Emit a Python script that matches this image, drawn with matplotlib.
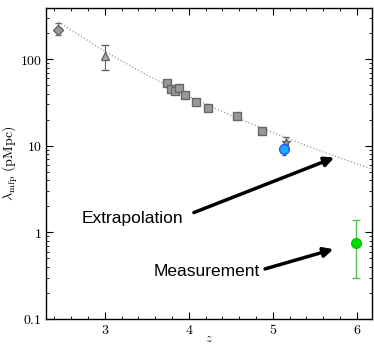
import numpy as np
import matplotlib.pyplot as plt
from matplotlib.ticker import MultipleLocator, LogLocator, FixedLocator, FixedFormatter, NullFormatter

plt.rcParams['mathtext.fontset'] = 'cm'

# grey literature points (squares)
sq_z = [3.74, 3.79, 3.83, 3.88, 3.96, 4.08, 4.23, 4.57, 4.87]
sq_l = [53, 45.5, 43, 46.5, 38.8, 32, 27.5, 22.2, 14.9]
sq_err = [3, 3, 3, 3, 2.5, 2, 2, 1.5, 1.2]

# low-z points
dia_z, dia_l, dia_lo, dia_hi = 2.44, 220, 30, 40
tri_z, tri_l, tri_lo, tri_hi = 3.0, 110, 35, 35
star_z, star_l, star_err = 5.16, 11.1, 1.4

# blue point
blue_z, blue_l, blue_err = 5.13, 9.2, 1.3

# measurement
meas_z, meas_l, meas_lo, meas_hi = 5.99, 0.76, 0.46, 0.64

# dotted extrapolation curve
fit_z = [2.45, 3.0, 3.5, 4.0, 4.5, 5.0, 5.5, 6.0, 6.18]
fit_l = [270, 123, 65.5, 37.3, 22.5, 14.2, 9.2, 6.2, 5.4]

fig = plt.figure(figsize=(3.74, 3.45), dpi=100)
ax = fig.add_axes([46/374, 1-319/345, 326/374, 311/345])

ax.plot(fit_z, fit_l, ls=':', color='#999999', lw=0.9)

grey = '#999999'
edge = '#666666'
ax.errorbar(sq_z, sq_l, yerr=sq_err, fmt='s', ms=6, mfc=grey, mec=edge,
            ecolor=edge, elinewidth=0.8, capsize=1.5)
ax.errorbar([dia_z], [dia_l], yerr=[[dia_lo], [dia_hi]], fmt='D', ms=5, mfc=grey,
            mec=edge, ecolor=edge, elinewidth=0.8, capsize=2.5)
ax.plot([dia_z + 0.02], [dia_l - 10], 'v', ms=5, mfc=grey, mec=edge)
ax.errorbar([tri_z], [tri_l], yerr=[[tri_lo], [tri_hi]], fmt='^', ms=6, mfc='#aaaaaa',
            mec=edge, ecolor=edge, elinewidth=0.8, capsize=3)
ax.errorbar([star_z], [star_l], yerr=star_err, fmt='*', ms=6, mfc=grey, mec=edge,
            ecolor=edge, elinewidth=0.8, capsize=2)
ax.errorbar([blue_z], [blue_l], yerr=blue_err, fmt='o', ms=7, mfc='#10b0ff',
            mec='#3050ff', ecolor='#3050ff', elinewidth=0.8, capsize=1.5)
ax.errorbar([meas_z], [meas_l], yerr=[[meas_lo], [meas_hi]], fmt='o', ms=7,
            mfc='#00dd00', mec='#00cc00', ecolor='#55c055', elinewidth=1.0, capsize=3)

ax.set_yscale('log')
ax.set_xlim(2.3, 6.18)
ax.set_ylim(0.1, 390)

ax.xaxis.set_major_locator(FixedLocator([3, 4, 5, 6]))
ax.xaxis.set_major_formatter(FixedFormatter([r'$3$', r'$4$', r'$5$', r'$6$']))
ax.xaxis.set_minor_locator(MultipleLocator(0.2))
ax.yaxis.set_major_locator(FixedLocator([0.1, 1, 10, 100]))
ax.yaxis.set_major_formatter(FixedFormatter([r'$0.1$', r'$1$', r'$10$', r'$100$']))
ax.yaxis.set_minor_locator(LogLocator(base=10, subs=np.arange(2, 10)))
ax.yaxis.set_minor_formatter(NullFormatter())
ax.tick_params(which='both', direction='in', top=True, right=True, labelsize=10, pad=3)
ax.tick_params(which='major', length=5, width=0.8)
ax.tick_params(which='minor', length=2.5, width=0.6)
for s in ax.spines.values():
    s.set_linewidth(1.0)

ax.set_xlabel(r'$z$', fontsize=9)
ax.xaxis.set_label_coords(0.5, -0.042)
ax.set_ylabel(r'$\lambda_{\rm mfp}\ \rm (pMpc)$', fontsize=10)
ax.yaxis.set_label_coords(-0.08, 0.5)

txt = dict(fontsize=12.5, family='Liberation Sans', color='black')
ax.annotate('Extrapolation', xy=(5.73, 7.3), xytext=(3.33, 1.43),
            ha='center', va='center', **txt,
            arrowprops=dict(arrowstyle='-|>', color='black', lw=2.5, relpos=(1.0, 0.65),
                            mutation_scale=14, shrinkA=6, shrinkB=0))
ax.annotate('Measurement', xy=(5.72, 0.64), xytext=(4.21, 0.349),
            ha='center', va='center', **txt,
            arrowprops=dict(arrowstyle='-|>', color='black', lw=2.5, relpos=(1.0, 0.6),
                            mutation_scale=14, shrinkA=2, shrinkB=0))

fig.savefig('out.png', dpi=100)
